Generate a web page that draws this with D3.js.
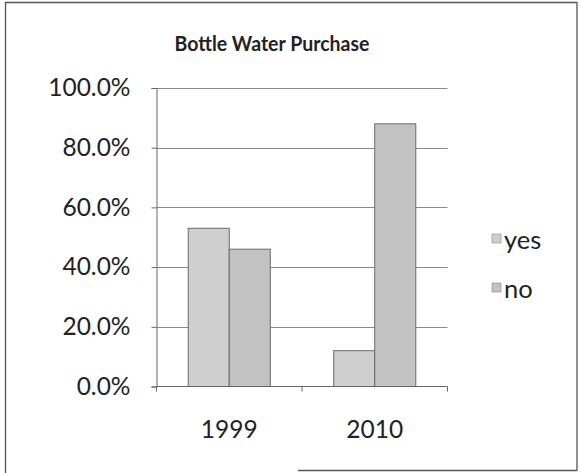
<!DOCTYPE html>
<html>
<head>
<meta charset="utf-8">
<script src="https://cdn.jsdelivr.net/npm/d3@7"></script>
<style>
  html, body { margin: 0; padding: 0; background: #fff; }
  svg { display: block; }
  text { font-family: Lato, "Open Sans", sans-serif; fill: #222; }
</style>
</head>
<body>
<svg id="chart" width="581" height="473"></svg>
<script>
// Share of respondents who buy bottled water, by survey year
const years = ["1999", "2010"];
const seriesNames = ["yes", "no"];
const yesValues = [0.53, 0.12];
const noValues = [0.46, 0.88];
const yTicks = [0, 0.2, 0.4, 0.6, 0.8, 1.0];
const chartTitle = "Bottle Water Purchase";

const seriesColors = { yes: "#cfcfcf", no: "#c2c2c2" };

const rows = years.map((y, i) => ({ year: y, yes: yesValues[i], no: noValues[i] }));

const svg = d3.select("#chart");
const W = 581, H = 473;
const plot = { left: 156.5, right: 447.5, top: 88, bottom: 386.5 };
const labelFont = 24.5;

// outer frame
const frame = svg.append("g").attr("stroke", "#555").attr("stroke-width", 1.3).attr("fill", "none");
frame.append("line").attr("x1", 5.5).attr("y1", 2).attr("x2", 5.5).attr("y2", H);
frame.append("line").attr("x1", 5).attr("y1", 2.5).attr("x2", 577).attr("y2", 2.5);
frame.append("line").attr("x1", 577).attr("y1", 2).attr("x2", 577).attr("y2", 470.5);
frame.append("line").attr("x1", 298).attr("y1", 470.5).attr("x2", 577).attr("y2", 470.5);

// title, lightly tightened to a fixed run length
svg.append("text")
  .attr("x", 272).attr("y", 51)
  .attr("text-anchor", "middle")
  .attr("font-size", 21.5).attr("font-weight", 700)
  .attr("textLength", 195).attr("lengthAdjust", "spacingAndGlyphs")
  .text(chartTitle);

const x0 = d3.scaleBand().domain(years)
  .range([plot.left, plot.right])
  .paddingInner(0.436).paddingOuter(0.218);
const x1 = d3.scaleBand().domain(seriesNames).range([0, x0.bandwidth()]);
const y = d3.scaleLinear().domain([0, 1]).range([plot.bottom, plot.top]);

// gridlines
svg.append("g")
  .selectAll("line").data(yTicks.filter(t => t > 0)).join("line")
  .attr("x1", plot.left).attr("x2", plot.right)
  .attr("y1", d => Math.round(y(d)) + 0.5).attr("y2", d => Math.round(y(d)) + 0.5)
  .attr("stroke", "#8a8a8a").attr("stroke-width", 1);

// bars
svg.append("g").selectAll("g").data(rows).join("g")
  .attr("transform", d => `translate(${x0(d.year)},0)`)
  .selectAll("rect").data(d => seriesNames.map(k => ({ key: k, value: d[k] }))).join("rect")
  .attr("x", d => x1(d.key))
  .attr("y", d => y(d.value))
  .attr("width", x1.bandwidth())
  .attr("height", d => plot.bottom - y(d.value))
  .attr("fill", d => seriesColors[d.key])
  .attr("stroke", "#6a6a6a").attr("stroke-width", 1);

// y axis
const yAxis = d3.axisLeft(y).tickValues(yTicks).tickSize(5).tickPadding(21)
  .tickFormat(d3.format(".1%"));
const gy = svg.append("g").attr("transform", `translate(${plot.left},0)`).call(yAxis);
gy.select(".domain").attr("stroke", "#666");
gy.selectAll(".tick line").attr("stroke", "#666");
gy.selectAll(".tick text").attr("font-size", labelFont).attr("fill", "#222")
  .attr("font-family", "Lato, sans-serif");

// x axis
const xAxis = d3.axisBottom(x0).tickSize(0).tickPadding(34);
const gx = svg.append("g").attr("transform", `translate(0,${plot.bottom})`).call(xAxis);
gx.select(".domain").attr("stroke", "#666").attr("d", `M${plot.left},5V0H${plot.right}V5`);
gx.selectAll(".tick text").attr("font-size", labelFont).attr("fill", "#222")
  .attr("font-family", "Lato, sans-serif");
gx.append("line")
  .attr("x1", (plot.left + plot.right) / 2).attr("x2", (plot.left + plot.right) / 2)
  .attr("y1", 0).attr("y2", 5).attr("stroke", "#666");

// legend
const legend = svg.append("g").selectAll("g").data(seriesNames).join("g")
  .attr("transform", (d, i) => `translate(492,${234 + i * 49})`);
legend.append("rect").attr("width", 9).attr("height", 9)
  .attr("fill", d => seriesColors[d]).attr("stroke", "#888").attr("stroke-width", 0.6);
legend.append("text").attr("x", 12).attr("y", 15)
  .attr("font-size", labelFont + 1).text(d => d);
</script>
</body>
</html>
